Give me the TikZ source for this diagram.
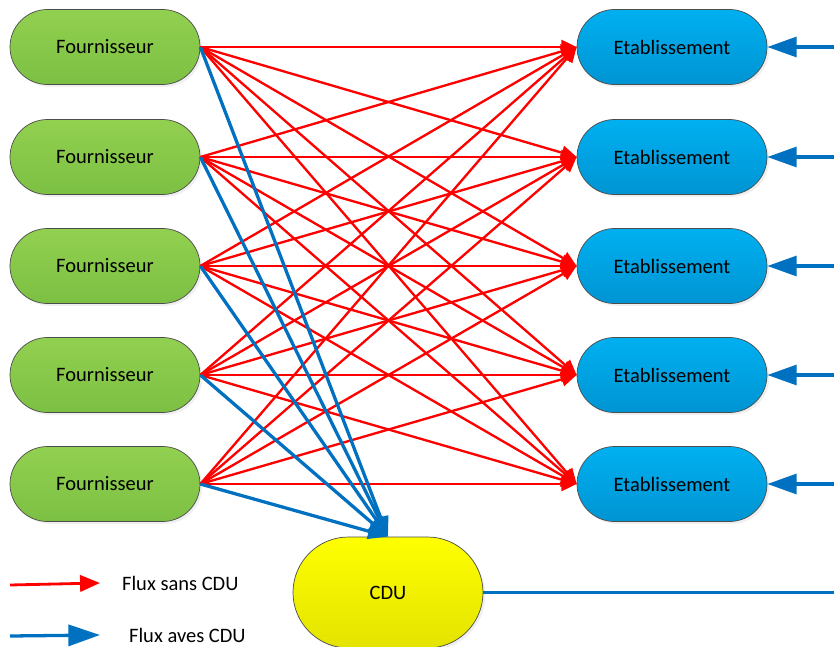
\documentclass[tikz,border=0pt]{standalone}
\usepackage{fontspec}
\setmainfont{Carlito}
\usepackage{xcolor}
\usepackage{tikz}
\usetikzlibrary{
  arrows.meta,
  positioning,
  shapes.misc,
  shadows
}
\definecolor{fourGreen}{HTML}{92D050}
\definecolor{fourGreenDark}{HTML}{7CC043}
\definecolor{etabBlue}{HTML}{00B0F0}
\definecolor{etabBlueDark}{HTML}{0094D3}
\definecolor{cduYellow}{HTML}{FFFF00}
\definecolor{cduYellowDark}{HTML}{E3E300}
\definecolor{fluxBlue}{HTML}{0070C0}

\begin{document}
\begin{tikzpicture}[
  x=0.03cm, y=-0.03cm,
  every node/.style={font=\fontsize{17.5}{20}\selectfont},
  box/.style={rounded rectangle, draw=black!70, line width=0.6pt,
    minimum width=5.7cm, minimum height=2.25cm, inner sep=0pt,
    drop shadow={shadow xshift=2pt, shadow yshift=-2pt, fill=black!12}},
  four/.style={box, top color=fourGreen, bottom color=fourGreenDark},
  etab/.style={box, top color=etabBlue, bottom color=etabBlueDark},
  cdubox/.style={box, minimum height=3.33cm, top color=cduYellow, bottom color=cduYellowDark},
  red flux/.style={draw=red, line width=2pt, -{Triangle[length=13pt, width=12pt]}},
  blue flux/.style={draw=fluxBlue, line width=2.8pt, -{Triangle[length=17pt, width=13pt]}},
  in flux/.style={draw=fluxBlue, line width=2.8pt, -{Triangle[length=25pt, width=17pt]}},
  lab/.style={anchor=west}
]
  \useasboundingbox (0,0) rectangle (834,647);

  % suppliers and establishments
  \foreach \i/\y in {1/47, 2/157, 3/266, 4/375, 5/484} {
    \node[four] (f\i) at (105,\y) {Fournisseur};
    \node[etab] (e\i) at (672,\y) {Etablissement};
    \coordinate (r\i) at (834,\y);
  }

  % distribution centre
  \node[cdubox] (cdu) at (388,592.5) {CDU};
  \coordinate (rc) at (834,592.5);

  % direct flows
  \foreach \i in {1,...,5}
    \foreach \j in {1,...,5}
      \draw[red flux] (f\i.east) -- (e\j.west);

  % flows through the CDU
  \foreach \i in {1,...,5}
    \draw[blue flux] (f\i.east) -- (cdu.north);

  % incoming flows on the right
  \foreach \i in {1,...,5}
    \draw[in flux] (r\i) -- (e\i.east);
  \draw[draw=fluxBlue, line width=2.8pt] (cdu.east) -- (rc);

  % legend
  \coordinate (lr0) at (10,585);
  \coordinate (lr1) at (100,583);
  \coordinate (lb0) at (10,636);
  \coordinate (lb1) at (100,635);
  \draw[draw=red, line width=2.4pt, -{Triangle[length=17pt, width=14pt]}] (lr0) -- (lr1);
  \draw[draw=fluxBlue, line width=2.8pt, -{Triangle[length=27pt, width=18pt]}] (lb0) -- (lb1);
  \node[lab] (ls) at (118,583) {Flux sans CDU};
  \node[lab] (la) at (125,635) {Flux aves CDU};

\end{tikzpicture}
\end{document}
